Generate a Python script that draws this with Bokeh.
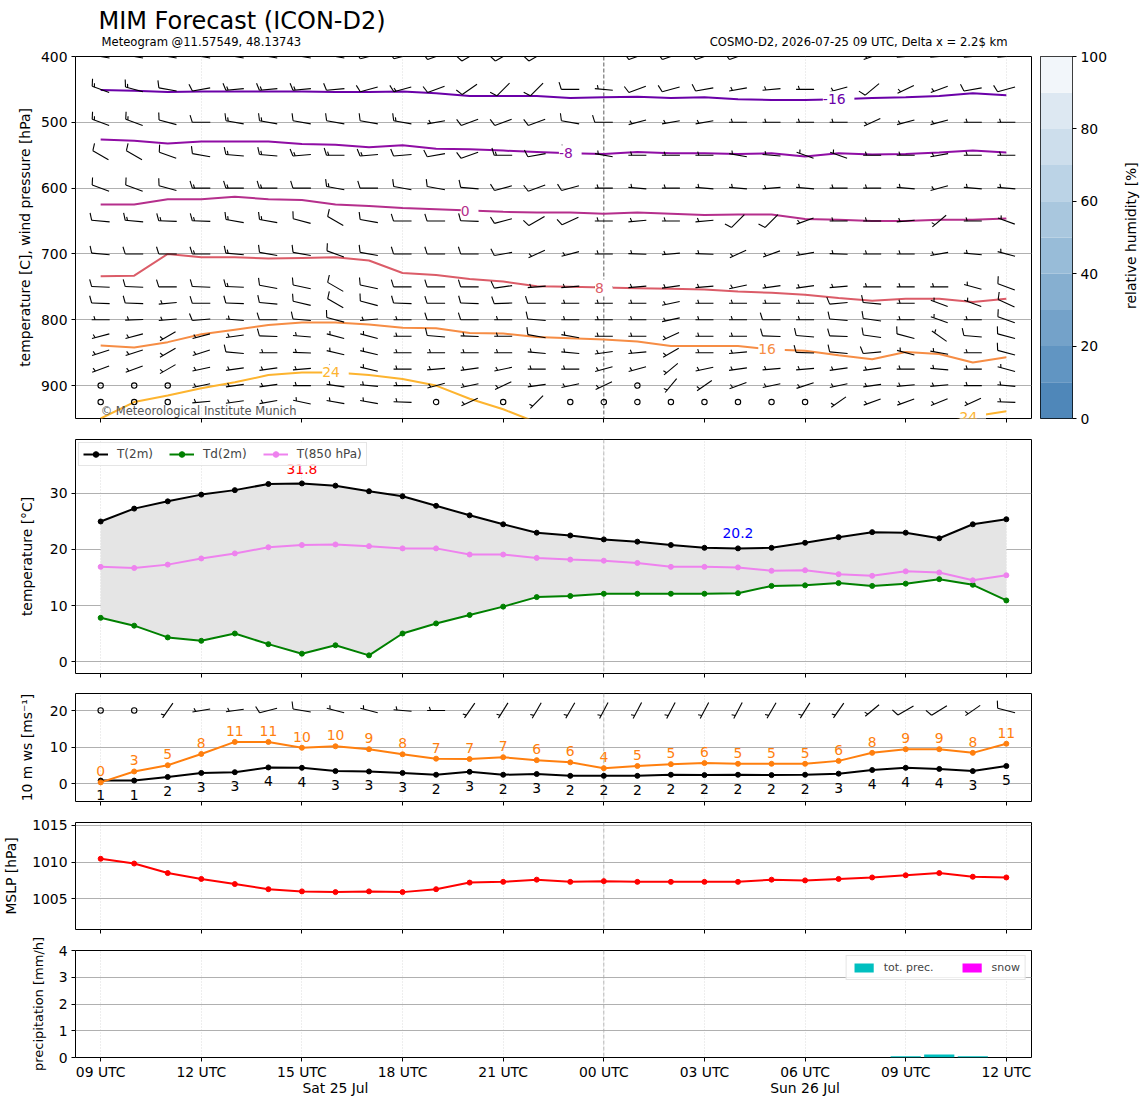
import math
import numpy as np
from bokeh.plotting import figure
from bokeh.layouts import column, row
from bokeh.models import Range1d, FixedTicker, Span, LinearAxis
from bokeh.core.properties import value
from bokeh.embed import file_html
from bokeh.resources import INLINE

FONT = "DejaVu Sans"

# ---------------- data ----------------
hours = list(range(28))                       # 0 = 25 Jul 09 UTC
tick_hours = [0, 3, 6, 9, 12, 15, 18, 21, 24, 27]
tick_labels = ["09 UTC", "12 UTC", "15 UTC", "18 UTC", "21 UTC",
               "00 UTC", "03 UTC", "06 UTC", "09 UTC", "12 UTC"]
grid6_hours = [3, 9, 21, 27]
midnight_hour = 15
day_hours = [7, 21]
day_labels = ["Sat 25 Jul", "Sun 26 Jul"]

title_text = "MIM Forecast (ICON-D2)"
subtitle_left = "Meteogram @11.57549, 48.13743"
subtitle_right = "COSMO-D2, 2026-07-25 09 UTC, Delta x = 2.2$ km"
copyright_text = "\u00a9 Meteorological Institute Munich"

# isotherms (pressure in hPa of each isotherm at each hour)
iso_levels = [-16, -8, 0, 8, 16, 24]
iso_m16 = [451, 452, 454, 453, 453, 453, 453, 454, 454, 453, 456, 460, 460, 460, 463, 462, 461, 463, 462, 465, 466, 466, 465, 463, 462, 460, 456, 459]
iso_m8 = [526, 528, 532, 529, 529, 529, 533, 534, 538, 535, 540, 541, 543, 545, 547, 548, 545, 547, 547, 548, 547, 552, 547, 549, 548, 546, 543, 546]
iso_0 = [625, 625, 617, 617, 613, 617, 618, 625, 627, 630, 632, 634, 636, 637, 637, 639, 637, 639, 641, 640, 640, 647, 648, 650, 650, 648, 648, 646]
iso_8 = [734, 733, 700, 705, 705, 707, 706, 705, 710, 729, 732, 738, 742, 749, 750, 751, 752, 753, 754, 757, 759, 762, 767, 771, 768, 768, 773, 768]
iso_16 = [839, 842, 834, 822, 815, 808, 804, 804, 807, 812, 813, 820, 821, 826, 828, 830, 833, 840, 840, 840, 845, 847, 854, 860, 849, 852, 865, 857]
iso_24 = [950, 925, 915, 904, 895, 884, 880, 880, 884, 890, 900, 920, 936, 956, 963, 968, 972, 975, 978, 980, 981, 980, 976, 970, 964, 958, 947, 939]
iso_lines = [iso_m16, iso_m8, iso_0, iso_8, iso_16, iso_24]
iso_label_hours = [[22], [14], [11], [15], [20], [7, 26]]
iso_colors = ["#6a00a8", "#8f0da4", "#b52f8c", "#db5c68", "#f68d45", "#fdb42f"]

# wind barbs aloft: direction (deg, from) and speed (kt)
barb_levels = [400, 450, 500, 550, 600, 650, 700, 750, 775, 800, 825, 850, 875, 900, 925]
dir_400 = [280, 280, 280, 280, 280, 280, 280, 280, 255, 255, 250, 240, 240, 240, 270, 270, 250, 250, 250, 250, 270, 270, 270, 250, 265, 265, 265, 265]
spd_400 = [10, 10, 10, 10, 10, 10, 10, 10, 10, 10, 10, 10, 10, 10, 10, 5, 10, 10, 10, 10, 5, 5, 5, 5, 5, 5, 5, 5]
dir_450 = [290, 285, 280, 260, 265, 265, 265, 265, 255, 255, 250, 235, 225, 225, 270, 275, 250, 255, 260, 260, 265, 270, 255, 230, 245, 250, 260, 255]
spd_450 = [15, 15, 10, 10, 15, 15, 15, 10, 10, 15, 10, 10, 10, 10, 10, 5, 10, 10, 10, 5, 5, 5, 5, 10, 5, 5, 10, 10]
dir_500 = [290, 290, 285, 270, 280, 280, 280, 280, 280, 280, 260, 250, 250, 250, 280, 270, 255, 260, 260, 270, 270, 270, 270, 245, 255, 255, 270, 270]
spd_500 = [15, 15, 10, 10, 15, 15, 10, 10, 10, 15, 5, 10, 10, 10, 10, 10, 5, 5, 5, 5, 5, 5, 5, 5, 5, 5, 5, 5]
dir_550 = [300, 300, 290, 280, 275, 275, 265, 270, 265, 265, 260, 250, 270, 260, 290, 280, 270, 270, 270, 280, 275, 290, 290, 270, 270, 260, 270, 270]
spd_550 = [10, 10, 10, 10, 15, 15, 15, 15, 15, 10, 10, 10, 15, 10, 10, 5, 5, 5, 5, 5, 5, 5, 5, 5, 5, 5, 5, 5]
dir_600 = [290, 290, 285, 270, 270, 270, 270, 280, 270, 280, 280, 275, 255, 250, 255, 270, 275, 270, 275, 275, 265, 275, 270, 270, 275, 255, 275, 275]
spd_600 = [10, 10, 10, 15, 15, 15, 10, 15, 10, 10, 10, 10, 10, 10, 10, 5, 5, 5, 5, 5, 5, 5, 5, 5, 5, 5, 5, 5]
dir_650 = [275, 275, 272, 272, 280, 280, 285, 300, 280, 270, 270, 272, 255, 240, 245, 270, 265, 270, 265, 225, 225, 250, 270, 270, 265, 230, 270, 290]
spd_650 = [10, 15, 15, 15, 15, 15, 10, 10, 10, 10, 10, 10, 10, 10, 10, 5, 5, 5, 5, 10, 10, 5, 5, 5, 5, 5, 5, 5]
dir_700 = [275, 270, 270, 270, 275, 280, 280, 290, 280, 270, 270, 270, 260, 245, 255, 270, 272, 265, 272, 245, 250, 260, 272, 270, 270, 260, 275, 285]
spd_700 = [10, 10, 10, 15, 15, 10, 10, 10, 10, 10, 10, 10, 10, 5, 5, 5, 5, 5, 5, 5, 5, 5, 5, 5, 5, 5, 5, 5]
dir_750 = [272, 272, 270, 272, 272, 280, 282, 300, 282, 270, 270, 270, 262, 265, 265, 270, 265, 262, 265, 258, 262, 262, 265, 270, 270, 270, 285, 290]
spd_750 = [10, 10, 10, 10, 15, 10, 10, 10, 10, 10, 10, 10, 10, 5, 5, 5, 5, 5, 5, 5, 5, 5, 5, 5, 5, 5, 5, 10]
dir_775 = [272, 272, 265, 270, 272, 275, 283, 300, 285, 272, 270, 272, 268, 270, 270, 270, 270, 258, 270, 270, 270, 270, 265, 275, 270, 290, 290, 295]
spd_775 = [10, 10, 5, 10, 10, 10, 10, 10, 10, 10, 10, 10, 10, 10, 5, 5, 5, 5, 5, 5, 5, 5, 10, 10, 5, 5, 5, 10]
dir_800 = [270, 268, 265, 265, 275, 270, 275, 285, 265, 270, 270, 270, 270, 275, 270, 270, 270, 258, 270, 270, 270, 270, 275, 278, 270, 290, 270, 290]
spd_800 = [5, 5, 5, 10, 5, 10, 10, 10, 5, 5, 10, 10, 5, 10, 5, 5, 5, 5, 5, 5, 10, 5, 10, 10, 5, 5, 5, 10]
dir_825 = [255, 255, 240, 255, 262, 272, 275, 285, 285, 270, 275, 272, 270, 280, 280, 270, 270, 245, 270, 270, 272, 275, 272, 278, 285, 305, 275, 285]
spd_825 = [5, 5, 5, 5, 5, 10, 5, 5, 5, 5, 10, 5, 5, 10, 5, 5, 5, 5, 5, 5, 10, 10, 10, 10, 10, 5, 10, 10]
dir_850 = [252, 252, 240, 252, 275, 270, 272, 283, 283, 270, 270, 270, 270, 275, 275, 262, 265, 240, 270, 265, 270, 272, 275, 265, 285, 280, 270, 285]
spd_850 = [5, 5, 5, 5, 10, 5, 5, 5, 5, 5, 5, 5, 5, 5, 5, 5, 5, 5, 5, 5, 5, 10, 10, 10, 5, 5, 5, 10]
dir_875 = [250, 250, 240, 258, 262, 262, 265, 280, 283, 270, 265, 262, 258, 270, 270, 255, 255, 230, 258, 262, 265, 265, 262, 262, 270, 275, 270, 285]
spd_875 = [5, 5, 5, 5, 5, 5, 5, 5, 5, 5, 5, 5, 5, 5, 5, 5, 5, 5, 5, 5, 5, 5, 5, 5, 5, 5, 5, 5]
dir_900 = [270, 270, 270, 258, 262, 262, 270, 278, 275, 270, 255, 258, 245, 262, 258, 245, 270, 220, 235, 250, 258, 252, 258, 262, 265, 265, 270, 275]
spd_900 = [0, 0, 0, 5, 5, 5, 5, 5, 5, 5, 5, 5, 5, 5, 5, 5, 0, 5, 5, 5, 5, 5, 5, 5, 5, 5, 5, 5]
dir_925 = [270, 270, 270, 265, 262, 260, 282, 280, 280, 272, 270, 245, 270, 225, 270, 270, 270, 270, 270, 270, 270, 270, 235, 250, 250, 248, 245, 272]
spd_925 = [0, 0, 0, 5, 5, 5, 5, 5, 5, 5, 0, 5, 0, 5, 0, 0, 0, 0, 0, 0, 0, 0, 5, 5, 5, 5, 5, 5]
barb_dirs = [dir_400, dir_450, dir_500, dir_550, dir_600, dir_650, dir_700, dir_750,
             dir_775, dir_800, dir_825, dir_850, dir_875, dir_900, dir_925]
barb_spds = [spd_400, spd_450, spd_500, spd_550, spd_600, spd_650, spd_700, spd_750,
             spd_775, spd_800, spd_825, spd_850, spd_875, spd_900, spd_925]

# relative humidity colour scale
rh_levels = [0, 10, 20, 30, 40, 50, 60, 70, 80, 90, 100]
rh_colors = ["#4f87b9", "#6195c2", "#74a2c9", "#86afd0", "#98bcd8",
             "#a9c7de", "#bbd3e6", "#cddeec", "#dde8f2", "#f2f6fa"]
rh_ticks = [0, 20, 40, 60, 80, 100]

# 2 m temperatures
t2m = [25.0, 27.3, 28.6, 29.8, 30.6, 31.7, 31.8, 31.4, 30.4, 29.5, 27.8, 26.1, 24.5, 23.0, 22.5, 21.8, 21.4, 20.8, 20.3, 20.2, 20.3, 21.2, 22.2, 23.1, 23.0, 22.0, 24.5, 25.4]
td2m = [7.8, 6.4, 4.3, 3.7, 5.0, 3.1, 1.4, 2.9, 1.1, 5.0, 6.8, 8.3, 9.8, 11.5, 11.7, 12.1, 12.1, 12.1, 12.1, 12.2, 13.5, 13.6, 14.0, 13.5, 13.9, 14.7, 13.7, 10.9]
t850 = [16.9, 16.7, 17.3, 18.4, 19.3, 20.4, 20.8, 20.9, 20.6, 20.2, 20.2, 19.1, 19.1, 18.5, 18.2, 18.0, 17.6, 16.9, 16.9, 16.8, 16.2, 16.3, 15.6, 15.3, 16.1, 15.9, 14.5, 15.4]

# 10 m wind (m/s) and direction
ws10 = [0.8, 0.8, 1.8, 2.9, 3.1, 4.4, 4.3, 3.4, 3.3, 2.9, 2.4, 3.2, 2.4, 2.6, 2.1, 2.1, 2.1, 2.4, 2.3, 2.4, 2.3, 2.4, 2.7, 3.7, 4.3, 4.0, 3.4, 4.8]
gust10 = [0.3, 3.3, 5.0, 8.1, 11.4, 11.4, 9.8, 10.2, 9.4, 8.0, 6.8, 6.7, 7.2, 6.4, 5.8, 4.2, 4.8, 5.3, 5.6, 5.4, 5.4, 5.4, 6.2, 8.4, 9.4, 9.4, 8.4, 10.9]
dir10 = [270, 270, 215, 260, 262, 255, 280, 285, 285, 275, 270, 215, 212, 210, 210, 208, 208, 208, 208, 208, 210, 212, 215, 230, 240, 238, 235, 285]
barb_level_10m = 20
ms_to_kt = 1.94384

# mean sea level pressure
mslp = [1010.45, 1009.8, 1008.5, 1007.7, 1007.0, 1006.3, 1006.0, 1005.9, 1006.0, 1005.9, 1006.3, 1007.2, 1007.3, 1007.6, 1007.3, 1007.4, 1007.3, 1007.3, 1007.3, 1007.3, 1007.6, 1007.5, 1007.7, 1007.9, 1008.2, 1008.5, 1008.0, 1007.9]

# precipitation
precip = [0, 0, 0, 0, 0, 0, 0, 0, 0, 0, 0, 0, 0, 0, 0, 0, 0, 0, 0, 0, 0, 0, 0, 0, 0.05, 0.11, 0.05, 0]
snow = [0, 0, 0, 0, 0, 0, 0, 0, 0, 0, 0, 0, 0, 0, 0, 0, 0, 0, 0, 0, 0, 0, 0, 0, 0, 0, 0, 0]

# ---------------- layout constants ----------------
LEFT = 75
FW = 956
X0, X1 = -0.75, 27.75
XPP = (X1 - X0) / FW
H_TOP, H_T, H_W, H_P, H_R = 362, 234, 108, 107, 107
Y_TOP = (950, 400)
Y_T = (-2.14, 39.64)
Y_W = (-4.93, 24.66)
Y_P = (1000.8, 1015.4)
Y_R = (0, 4.0)
BARB_L = 18.0


def base_fig(fh, yr, top, bottom, right=10):
    return figure(frame_width=FW, frame_height=fh,
                  x_range=Range1d(X0, X1), y_range=Range1d(*yr),
                  min_border_left=LEFT, min_border_right=right,
                  min_border_top=top, min_border_bottom=bottom,
                  toolbar_location=None, output_backend="svg")


def style(p, ylabel, yticks, standoff, xlabels=False, grid_hours=None, mid_color="#aaaaaa",
          ylabel_size="13.9px"):
    p.outline_line_color = "black"
    p.outline_line_width = 1
    p.outline_line_alpha = 1
    for ax in list(p.xaxis) + list(p.yaxis):
        ax.axis_line_color = None
        ax.major_tick_in = 0
        ax.major_tick_out = 4
        ax.major_tick_line_color = "black"
        ax.major_tick_line_width = 1
        ax.minor_tick_line_color = None
        ax.major_label_text_font = FONT
        ax.major_label_text_font_size = "13.9px"
        ax.major_label_text_color = "black"
        ax.axis_label_text_font = FONT
        ax.axis_label_text_font_size = ylabel_size
        ax.axis_label_text_font_style = "normal"
        ax.axis_label_text_color = "black"
    p.yaxis.ticker = FixedTicker(ticks=yticks)
    p.yaxis.axis_label = ylabel
    p.yaxis.major_label_standoff = 4
    p.yaxis.axis_label_standoff = standoff
    p.xaxis.ticker = FixedTicker(ticks=tick_hours)
    if xlabels:
        p.xaxis.major_label_overrides = {h: l for h, l in zip(tick_hours, tick_labels)}
        p.xaxis.major_label_standoff = 2
    else:
        p.xaxis.major_label_text_font_size = "1px"
        p.xaxis.major_label_text_color = None
        p.xaxis.major_label_standoff = 0
    p.ygrid.grid_line_color = "#b0b0b0"
    p.ygrid.grid_line_width = 1
    p.xgrid.grid_line_color = "#d4d4d4"
    p.xgrid.grid_line_dash = "1 2"
    p.xgrid.grid_line_width = 0.8
    if grid_hours is not None:
        p.xgrid.ticker = FixedTicker(ticks=grid_hours)
    p.add_layout(Span(location=midnight_hour, dimension="height", line_color=mid_color,
                      line_dash="4 2", line_width=0.8, level="underlay"))


def make_barbs(xc, yc, spd, dirs, xpp, ypp, L=BARB_L):
    xs, ys, cx, cy = [], [], [], []
    fh, fw, sp = 0.4 * L, 0.25 * L, 0.125 * L
    for x0, y0, s, d in zip(xc, yc, spd, dirs):
        mag = 5.0 * float(np.around(s / 5.0))
        if mag < 5:
            cx.append(x0)
            cy.append(y0)
            continue
        r = math.radians(d)
        sx_, sy_ = math.sin(r), math.cos(r)      # staff, toward where wind comes from
        tx_, ty_ = math.cos(r), -math.sin(r)     # barb side

        def pt(a, b):
            return (x0 + (a * sx_ + b * tx_) * xpp, y0 + (a * sy_ + b * ty_) * ypp)

        q0, q1 = pt(-L / 2, 0), pt(L / 2, 0)
        xs.append([q0[0], q1[0]]); ys.append([q0[1], q1[1]])
        nfull = int(mag // 10)
        half = (mag - 10 * nfull) >= 5
        offset = L
        for _ in range(nfull):
            a0 = -L / 2 + offset
            q0, q1 = pt(a0, 0), pt(a0 + fw / 2, fh)
            xs.append([q0[0], q1[0]]); ys.append([q0[1], q1[1]])
            offset -= sp
        if half:
            if nfull == 0:
                offset -= 1.5 * sp
            a0 = -L / 2 + offset
            q0, q1 = pt(a0, 0), pt(a0 + fw / 4, fh / 2)
            xs.append([q0[0], q1[0]]); ys.append([q0[1], q1[1]])
    return xs, ys, cx, cy


# ---------------- header (frame aligned with the panels) ----------------
hdr = figure(frame_width=FW, frame_height=50, x_range=Range1d(LEFT, LEFT + FW), y_range=Range1d(0, 50),
             min_border_left=LEFT, min_border_right=10, min_border_top=0, min_border_bottom=0,
             x_axis_location=None, y_axis_location=None,
             toolbar_location=None, output_backend="svg", outline_line_color=None)
hdr.grid.visible = False
hdr.text(x=[98], y=[30], text=[title_text], text_font=value(FONT), text_font_size="24px",
         text_align="left", text_baseline="middle", text_color="black")
hdr.text(x=[101], y=[9], text=[subtitle_left], text_font=value(FONT), text_font_size="11.6px",
         text_align="left", text_baseline="middle", text_color="black")
hdr.text(x=[1007], y=[9], text=[subtitle_right], text_font=value(FONT), text_font_size="11.6px",
         text_align="right", text_baseline="middle", text_color="black")

# ---------------- top panel ----------------
p1 = base_fig(H_TOP, Y_TOP, 6, 10, right=9)
style(p1, "temperature [C], wind pressure [hPa]", [400, 500, 600, 700, 800, 900], 5,
      grid_hours=grid6_hours, mid_color="#333333")
ypp1 = (Y_TOP[1] - Y_TOP[0]) / H_TOP
for lev, line, col, lh in zip(iso_levels, iso_lines, iso_colors, iso_label_hours):
    p1.line(hours, line, line_color=col, line_width=2)
bx, by, cxs, cys = [], [], [], []
for lev, dl, sl in zip(barb_levels, barb_dirs, barb_spds):
    xs, ys, cx, cy = make_barbs(hours, [lev] * len(hours), sl, dl, XPP, ypp1)
    bx += xs; by += ys; cxs += cx; cys += cy
p1.multi_line(bx, by, line_color="black", line_width=1.1)
p1.scatter(cxs, cys, marker="circle", size=2 * 0.15 * BARB_L, fill_color=None,
           line_color="black", line_width=1.1)
for lev, line, col, lh in zip(iso_levels, iso_lines, iso_colors, iso_label_hours):
    p1.text(x=lh, y=[line[h] for h in lh], text=[" %d " % lev] * len(lh),
            text_font=value(FONT), text_font_size="13.9px", text_color=col,
            text_align="center", text_baseline="middle", background_fill_color="white")
p1.text(x=[0], y=[Y_TOP[0] + 8 * ypp1], text=[copyright_text], text_font=value(FONT),
        text_font_size="11.5px", text_color="#555555", text_align="left", text_baseline="middle")

# colour bar
pc = figure(frame_width=32, frame_height=H_TOP, x_range=Range1d(0, 1), y_range=Range1d(0, 100),
            min_border_left=0, min_border_right=40, min_border_top=6, min_border_bottom=10,
            x_axis_location=None, y_axis_location="right",
            toolbar_location=None, output_backend="svg")
pc.grid.visible = False
pc.quad(left=0, right=1, bottom=rh_levels[:-1], top=rh_levels[1:], fill_color=rh_colors, line_color=None)
pc.outline_line_color = "black"
pc.outline_line_alpha = 1
ax = pc.yaxis[0]
ax.ticker = FixedTicker(ticks=rh_ticks)
ax.axis_line_color = None
ax.major_tick_in = 0
ax.major_tick_out = 4
ax.major_tick_line_color = "black"
ax.minor_tick_line_color = None
ax.major_label_standoff = 4
ax.major_label_text_font = FONT
ax.major_label_text_font_size = "13.9px"
ax.major_label_text_color = "black"

pl = figure(width=28, height=6 + H_TOP + 10, x_range=Range1d(0, 28), y_range=Range1d(0, 6 + H_TOP + 10),
            min_border=0, x_axis_location=None, y_axis_location=None,
            toolbar_location=None, output_backend="svg", outline_line_color=None)
pl.grid.visible = False
pl.text(x=[18], y=[10 + H_TOP / 2], text=["relative humidity [%]"], angle=math.pi / 2,
        text_font=value(FONT), text_font_size="13.9px", text_align="center",
        text_baseline="middle", text_color="black")

# ---------------- temperature panel ----------------
p2 = base_fig(H_T, Y_T, 11, 6)
style(p2, "temperature [\u00b0C]", [0, 10, 20, 30], 12)
ypp2 = (Y_T[1] - Y_T[0]) / H_T
p2.varea(x=hours, y1=td2m, y2=t2m, fill_color="#e5e5e5")
for ser, col, lab in [(t2m, "black", "T(2m)"), (td2m, "green", "Td(2m)"), (t850, "violet", "T(850 hPa)")]:
    p2.line(hours, ser, line_color=col, line_width=2, legend_label=lab)
    p2.scatter(hours, ser, size=5, color=col, legend_label=lab)
imax = int(np.argmax(t2m))
imin = int(len(t2m) - 1 - np.argmin(t2m[::-1]))
p2.text(x=[hours[imax]], y=[t2m[imax] + 14 * ypp2], text=["%.1f" % t2m[imax]], text_color="red",
        text_font=value(FONT), text_font_size="13.9px", text_align="center", text_baseline="middle")
p2.text(x=[hours[imin]], y=[t2m[imin] + 15 * ypp2], text=["%.1f" % t2m[imin]], text_color="blue",
        text_font=value(FONT), text_font_size="13.9px", text_align="center", text_baseline="middle")
lg = p2.legend[0]
lg.location = "top_left"
lg.orientation = "horizontal"
lg.margin = 3
lg.padding = 4
lg.spacing = 16
lg.glyph_width = 25
lg.glyph_height = 14
lg.label_height = 14
lg.label_standoff = 9
lg.label_text_font = FONT
lg.label_text_font_size = "12px"
lg.border_line_color = "#cccccc"
lg.background_fill_alpha = 0.8

# ---------------- wind panel ----------------
p3 = base_fig(H_W, Y_W, 14, 6)
style(p3, "10 m ws [ms\u207b\u00b9]", [0, 10, 20], 12)
ypp3 = (Y_W[1] - Y_W[0]) / H_W
p3.line(hours, ws10, line_color="black", line_width=2)
p3.scatter(hours, ws10, size=5, color="black")
p3.line(hours, gust10, line_color="#ff7f0e", line_width=2)
p3.scatter(hours, gust10, size=5, color="#ff7f0e")
p3.text(x=hours, y=[g + 11 * ypp3 for g in gust10], text=["%.0f" % g for g in gust10],
        text_color="#ff7f0e", text_font=value(FONT), text_font_size="13.9px",
        text_align="center", text_baseline="middle")
p3.text(x=hours, y=[w - 14 * ypp3 for w in ws10], text=["%.0f" % w for w in ws10],
        text_color="black", text_font=value(FONT), text_font_size="13.9px",
        text_align="center", text_baseline="middle")
xs, ys, cx, cy = make_barbs(hours, [barb_level_10m] * len(hours), [w * ms_to_kt for w in ws10],
                            dir10, XPP, ypp3)
p3.multi_line(xs, ys, line_color="black", line_width=1.1)
p3.scatter(cx, cy, marker="circle", size=2 * 0.15 * BARB_L, fill_color=None,
           line_color="black", line_width=1.1)

# ---------------- MSLP panel ----------------
p4 = base_fig(H_P, Y_P, 15, 6)
style(p4, "MSLP [hPa]", [1005, 1010, 1015], 10)
p4.line(hours, mslp, line_color="red", line_width=2)
p4.scatter(hours, mslp, size=5, color="red")

# ---------------- precipitation panel ----------------
p5 = base_fig(H_R, Y_R, 15, 36)
style(p5, "precipitation [mm/h]", [0, 1, 2, 3, 4], 10, xlabels=True, ylabel_size="13px")
p5.vbar(x=hours, top=precip, width=0.9, fill_color="#00bfbf", line_color=None, legend_label="tot. prec.")
p5.vbar(x=hours, top=snow, width=0.9, fill_color="#ff00ff", line_color=None, legend_label="snow")
lg5 = p5.legend[0]
lg5.location = "top_right"
lg5.orientation = "horizontal"
lg5.margin = 5
lg5.padding = 5
lg5.spacing = 26
lg5.glyph_width = 24
lg5.glyph_height = 11
lg5.label_height = 12
lg5.label_standoff = 8
lg5.label_text_font = FONT
lg5.label_text_font_size = "11px"
lg5.border_line_color = "#cccccc"
lg5.background_fill_alpha = 0.8
dax = LinearAxis(ticker=FixedTicker(ticks=day_hours),
                 major_label_overrides={h: l for h, l in zip(day_hours, day_labels)})
dax.axis_line_color = None
dax.major_tick_line_color = None
dax.major_tick_in = 0
dax.major_tick_out = 0
dax.minor_tick_line_color = None
dax.major_label_standoff = -3
dax.major_label_text_font = FONT
dax.major_label_text_font_size = "13.9px"
dax.major_label_text_color = "black"
p5.add_layout(dax, "below")

layout = column(hdr, row(p1, pc, pl), p2, p3, p4, p5)
open("out.html", "w").write(file_html(layout, INLINE))
